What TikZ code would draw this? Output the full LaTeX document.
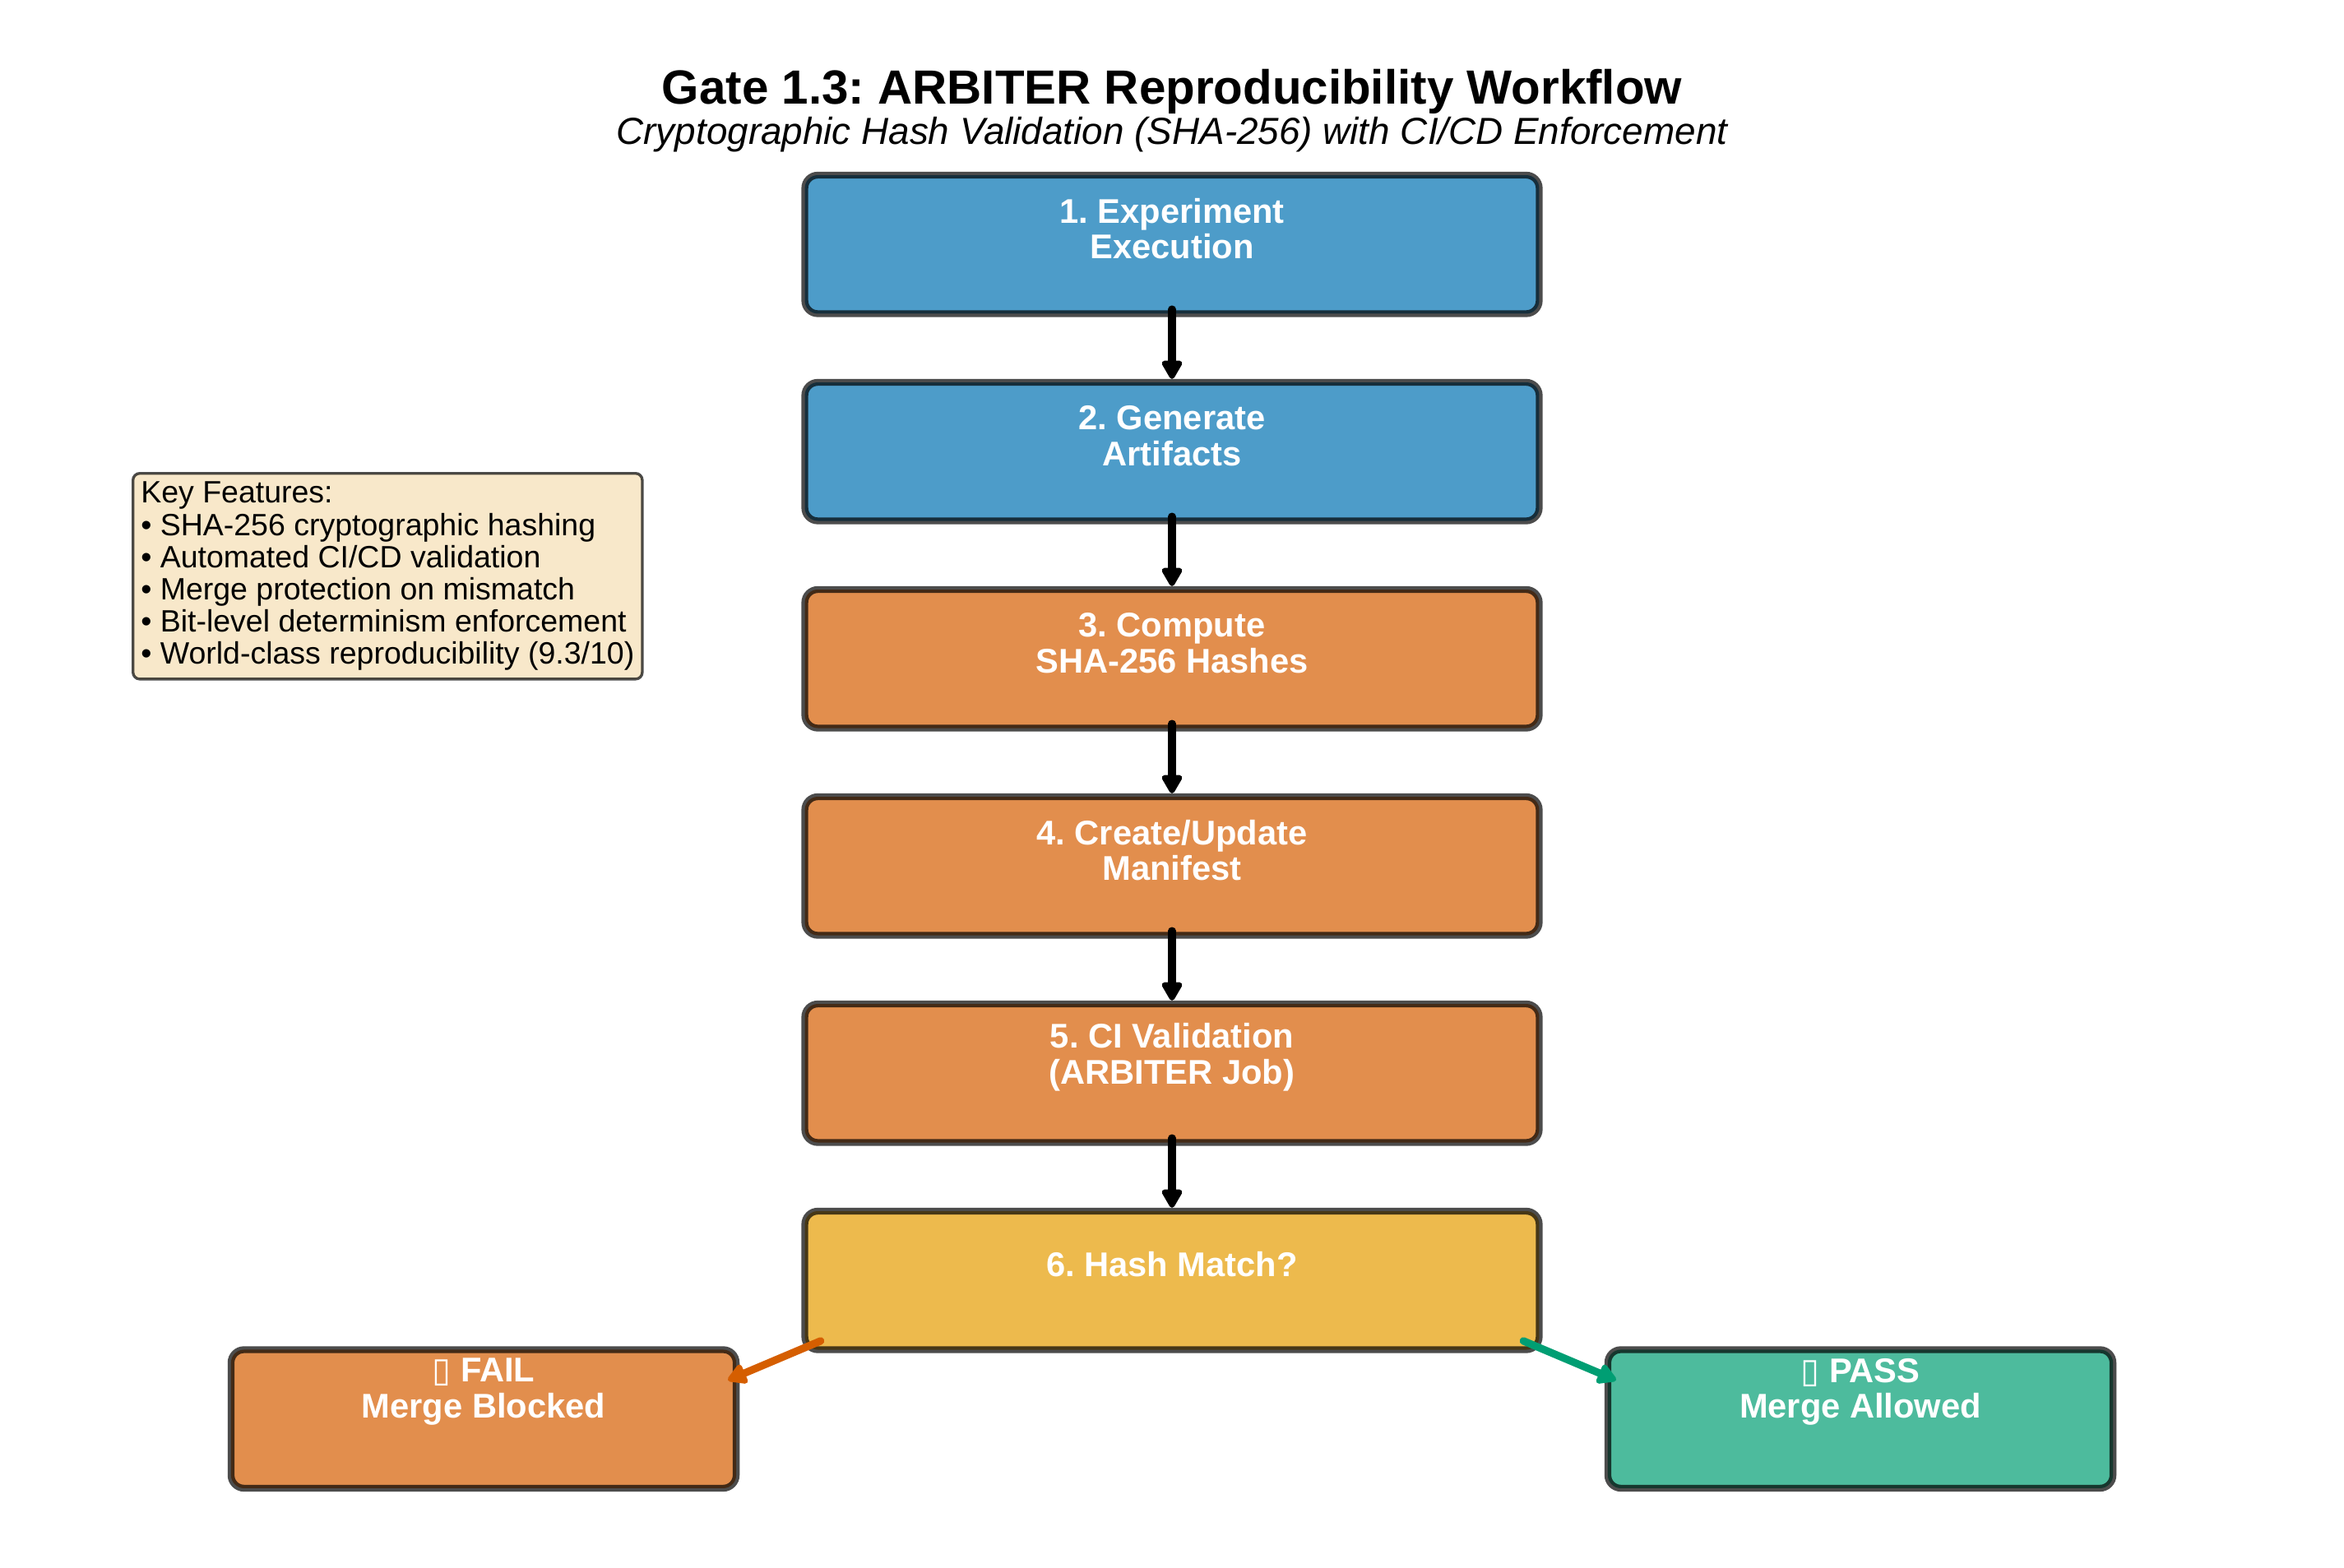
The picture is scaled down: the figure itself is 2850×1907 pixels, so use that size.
\documentclass[tikz,border=0pt]{standalone}
\usepackage{fontspec}
\setmainfont{Liberation Sans}
\newfontfamily\symfont{DejaVu Sans}
\usetikzlibrary{arrows.meta}
\definecolor{cblue}{HTML}{4D9CC9}
\definecolor{corange}{HTML}{E28E4D}
\definecolor{cyellow}{HTML}{EDBA4D}
\definecolor{cgreen}{HTML}{4DBB9D}
\definecolor{cwheat}{HTML}{F8E8CA}
\definecolor{arrowred}{HTML}{D55E00}
\definecolor{arrowgreen}{HTML}{009E73}
\frenchspacing
\begin{document}
\begin{tikzpicture}[x=0.24pt,y=-0.24pt,
  stepbox/.style={draw=black, draw opacity=0.7, line width=2pt, rounded corners=3.8pt,
    minimum width=214.3pt, minimum height=40.44pt, inner sep=0pt},
  endbox/.style={stepbox, minimum width=147.4pt},
  boxtext/.style={text=white, font=\bfseries\fontsize{10}{10.5}\selectfont, align=center, inner sep=0pt},
  flow/.style={line width=2.2pt, line cap=round, -{Triangle[length=6.2pt,width=6.6pt,round]}},
]
\useasboundingbox (0,0) rectangle (2850,1907);

\node[font=\bfseries\fontsize{14}{16}\selectfont, anchor=base] (title) at (1425,127)
  {Gate 1.3: ARBITER Reproducibility Workflow};
\node[font=\itshape\fontsize{11}{13}\selectfont, anchor=base] (subtitle) at (1425,176)
  {Cryptographic Hash Validation (SHA-256) with CI/CD Enforcement};

\node[stepbox, fill=cblue] (b1) at (1425,297.25) {};
\node[stepbox, fill=cblue] (b2) at (1425,549.25) {};
\node[stepbox, fill=corange] (b3) at (1425,801.25) {};
\node[stepbox, fill=corange] (b4) at (1425,1053.25) {};
\node[stepbox, fill=corange] (b5) at (1425,1305.25) {};
\node[stepbox, fill=cyellow] (b6) at (1425,1557.25) {};
\node[endbox, fill=corange] (fail) at (588,1725.7) {};
\node[endbox, fill=cgreen] (pass) at (2262,1725.7) {};

\node[boxtext] (t1) at ([yshift=4.6pt]b1.center) {1. Experiment\\Execution};
\node[boxtext] (t2) at ([yshift=4.6pt]b2.center) {2. Generate\\Artifacts};
\node[boxtext] (t3) at ([yshift=4.6pt]b3.center) {3. Compute\\SHA-256 Hashes};
\node[boxtext] (t4) at ([yshift=4.6pt]b4.center) {4. Create/Update\\Manifest};
\node[boxtext] (t5) at ([yshift=4.6pt]b5.center) {5. CI Validation\\(ARBITER Job)};
\node[boxtext] (t6) at ([yshift=4.6pt]b6.center) {6. Hash Match?};
\node[boxtext] (tf) at ([yshift=7.9pt]fail.center) {{\symfont\mdseries ▯} FAIL\\Merge Blocked};
\node[boxtext] (tp) at ([yshift=7.9pt]pass.center) {{\symfont\mdseries ▯} PASS\\Merge Allowed};

\node[draw=black, draw opacity=0.7, line width=0.8pt, fill=cwheat, rounded corners=2pt,
  anchor=north west, align=left, inner xsep=2.3pt, inner ysep=2.5pt,
  font=\fontsize{9}{9.4}\selectfont] (key) at (160,574)
  {Key Features:\\• SHA-256 cryptographic hashing\\• Automated CI/CD validation\\• Merge protection on mismatch\\• Bit-level determinism enforcement\\• World-class reproducibility (9.3/10)};

\draw[flow] ([yshift=2.3pt]b1.south) -- (b2.north);
\draw[flow] ([yshift=2.3pt]b2.south) -- (b3.north);
\draw[flow] ([yshift=2.3pt]b3.south) -- (b4.north);
\draw[flow] ([yshift=2.3pt]b4.south) -- (b5.north);
\draw[flow] ([yshift=2.3pt]b5.south) -- (b6.north);
\draw[flow, draw=arrowred, fill=arrowred] ([xshift=5.6pt,yshift=3.55pt]b6.south west) -- ([xshift=-3.4pt,yshift=-9.9pt]fail.north east);
\draw[flow, draw=arrowgreen, fill=arrowgreen] ([xshift=-5.6pt,yshift=3.55pt]b6.south east) -- ([xshift=3.4pt,yshift=-9.9pt]pass.north west);
\end{tikzpicture}
\end{document}
